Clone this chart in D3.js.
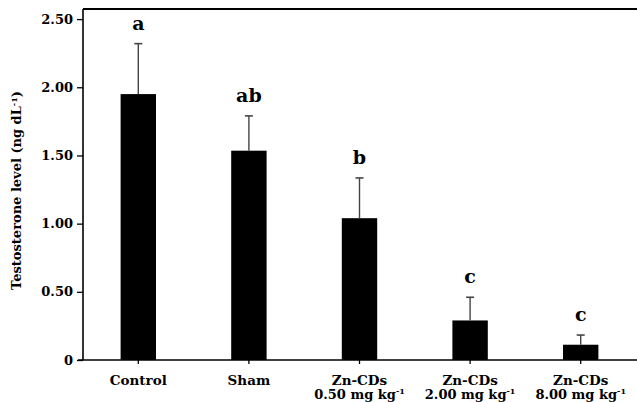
<!DOCTYPE html>
<html>
<head>
<meta charset="utf-8">
<script src="https://cdn.jsdelivr.net/npm/d3@7"></script>
<style>
  body { margin: 0; background: #fff; }
  text { font-family: "DejaVu Serif", "Liberation Serif", serif; font-weight: bold; }
</style>
</head>
<body>
<svg id="chart" width="637" height="402"></svg>
<script>
const groups = ["Control", "Sham", "Zn-CDs 0.50", "Zn-CDs 2.00", "Zn-CDs 8.00"];
const labelLine1 = ["Control", "Sham", "Zn-CDs", "Zn-CDs", "Zn-CDs"];
const labelLine2 = ["", "", "0.50 mg kg", "2.00 mg kg", "8.00 mg kg"];
const means = [1.95, 1.535, 1.04, 0.29, 0.112];
const errors = [0.37, 0.255, 0.295, 0.17, 0.071];
const letters = ["a", "ab", "b", "c", "c"];
const yTicks = [0, 0.5, 1, 1.5, 2, 2.5];

const svg = d3.select("#chart");
const plotLeft = 83, plotRight = 636, plotTop = 9, plotBottom = 360;

const x = d3.scaleBand().domain(groups).range([plotLeft, plotRight]).paddingInner(0.68).paddingOuter(0.34);
const y = d3.scaleLinear().domain([0, 2.574]).range([plotBottom, plotTop]);

// bars
svg.selectAll("rect.bar")
  .data(groups)
  .join("rect")
  .attr("class", "bar")
  .attr("x", (d) => x(d))
  .attr("width", x.bandwidth())
  .attr("y", (d, i) => y(means[i]))
  .attr("height", (d, i) => plotBottom - y(means[i]))
  .attr("fill", "#000");

// error bars (upper only)
const cap = 4;
groups.forEach((g, i) => {
  const cx = x(g) + x.bandwidth() / 2;
  const yt = y(means[i] + errors[i]);
  svg.append("line").attr("x1", cx).attr("x2", cx).attr("y1", y(means[i])).attr("y2", yt)
    .attr("stroke", "#444").attr("stroke-width", 1.4);
  svg.append("line").attr("x1", cx - cap).attr("x2", cx + cap).attr("y1", yt).attr("y2", yt)
    .attr("stroke", "#444").attr("stroke-width", 1.6);
  svg.append("text").attr("x", cx).attr("y", yt - 14).attr("text-anchor", "middle")
    .attr("font-size", 19).text(letters[i]);
});

// y axis
const yAxis = svg.append("g").attr("transform", `translate(${plotLeft},0)`)
  .call(d3.axisLeft(y).tickValues(yTicks).tickSize(6).tickPadding(4)
    .tickFormat((d) => (d === 0 ? "0" : d3.format(".2f")(d))));
yAxis.select(".domain").remove();
yAxis.selectAll(".tick line").attr("stroke", "#000").attr("stroke-width", 1.3);
yAxis.selectAll(".tick text").attr("font-size", 13).attr("fill", "#000")
  .style("font-family", '"DejaVu Serif", serif').style("font-weight", "bold");

// x axis ticks
const xAxis = svg.append("g").attr("transform", `translate(0,${plotBottom})`)
  .call(d3.axisBottom(x).tickSize(4).tickFormat(""));
xAxis.select(".domain").remove();
xAxis.selectAll(".tick line").attr("stroke", "#000").attr("stroke-width", 1.3);

// frame lines
svg.append("line").attr("x1", plotLeft).attr("x2", plotLeft).attr("y1", plotTop).attr("y2", plotBottom)
  .attr("stroke", "#000").attr("stroke-width", 1.6);
svg.append("line").attr("x1", plotLeft - 5).attr("x2", 637).attr("y1", plotBottom).attr("y2", plotBottom)
  .attr("stroke", "#000").attr("stroke-width", 1.6);
svg.append("line").attr("x1", plotLeft).attr("x2", 637).attr("y1", plotTop).attr("y2", plotTop)
  .attr("stroke", "#000").attr("stroke-width", 2);

// category labels
groups.forEach((g, i) => {
  const cx = x(g) + x.bandwidth() / 2;
  svg.append("text").attr("x", cx).attr("y", 385).attr("text-anchor", "middle")
    .attr("font-size", 13.5).text(labelLine1[i]);
  if (labelLine2[i]) {
    const t = svg.append("text").attr("x", cx).attr("y", 399).attr("text-anchor", "middle")
      .attr("font-size", 13);
    t.append("tspan").text(labelLine2[i]);
    t.append("tspan").attr("dy", -5).attr("font-size", 8).text("-1");
  }
});

// y axis title
const title = svg.append("text")
  .attr("transform", `translate(21,${(plotTop + plotBottom) / 2 + 6}) rotate(-90)`)
  .attr("text-anchor", "middle").attr("font-size", 13);
title.append("tspan").text("Testosterone level (ng dL");
title.append("tspan").attr("dy", -4).attr("font-size", 8).text("-1");
title.append("tspan").attr("dy", 4).text(")");
</script>
</body>
</html>
